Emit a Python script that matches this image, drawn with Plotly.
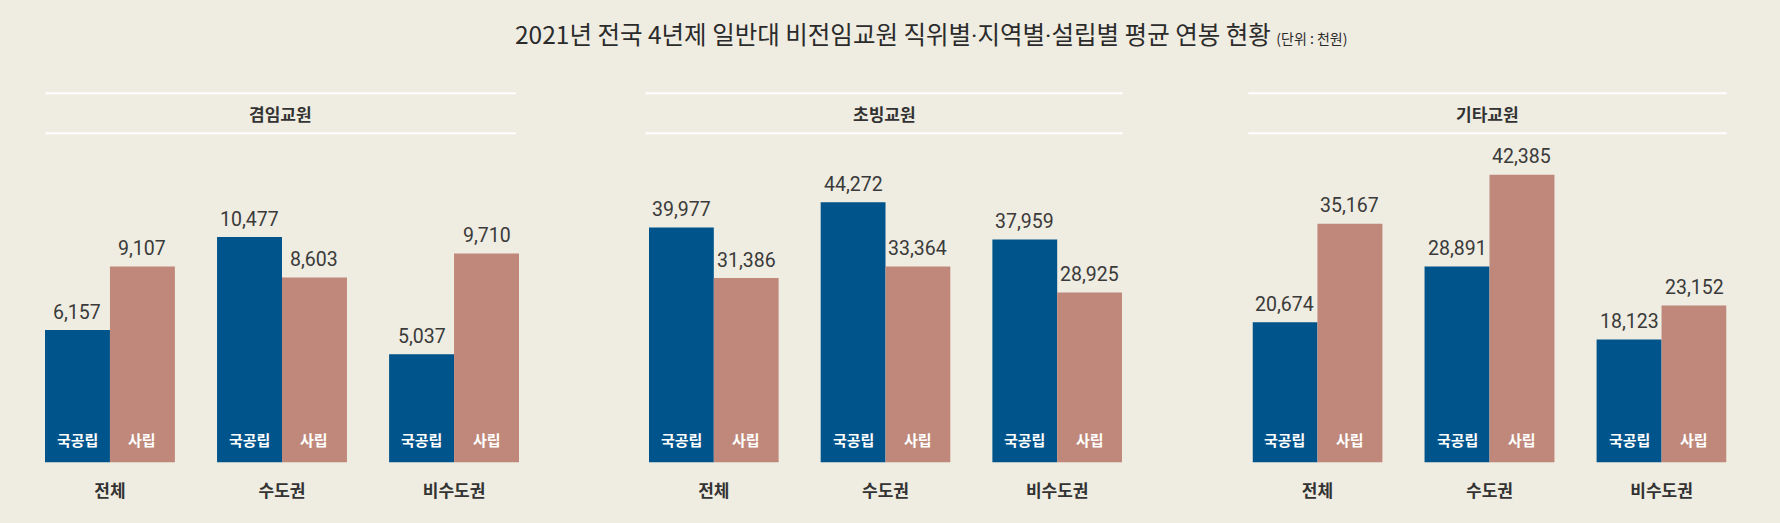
import plotly.graph_objects as go

# ---------------- data ----------------
title_parts = ["2021년 전국 4년제 일반대 비전임교원 직위별", "지역별", "설립별 평균 연봉 현황"]
title_unit = "(단위 : 천원)"
panels = ["겸임교원", "초빙교원", "기타교원"]
categories = ["전체", "수도권", "비수도권"]
sectors = ["국공립", "사립"]

public_adjunct = [6157, 10477, 5037]
private_adjunct = [9107, 8603, 9710]
public_invited = [39977, 44272, 37959]
private_invited = [31386, 33364, 28925]
public_other = [20674, 28891, 18123]
private_other = [35167, 42385, 23152]

panel_public = [public_adjunct, public_invited, public_other]
panel_private = [private_adjunct, private_invited, private_other]

# ---------------- style ----------------
W, H = 1780, 523
BG = "#efece1"
BLUE = "#00548c"
PINK = "#c0887a"
DARK = "#333333"
KR = "Noto Sans CJK KR"
NUM = "Roboto"

BARGAP = 0.245
GW = 1 - BARGAP

# pixel geometry of panels
x_px = [(45, 519), (649, 1122), (1252.5, 1726.5)]
line_px = [(45.5, 516), (645.5, 1123), (1248.5, 1726.5)]
y_bottom_px, y_top_px = 462.6, 150
y_scale = [0.02153, 0.00588, 0.00679]  # px per unit


def px2x(p):
    return p / W


def px2y(p):
    return 1 - p / H


fig = go.Figure()
layout = dict(
    width=W, height=H,
    margin=dict(l=0, r=0, t=0, b=0),
    paper_bgcolor=BG, plot_bgcolor=BG,
    barmode="group", bargap=BARGAP, bargroupgap=0,
    showlegend=False,
    font=dict(family=KR, color=DARK),
)

annotations = []
shapes = []

for k in range(3):
    sfx = "" if k == 0 else str(k + 1)
    xa, ya = "x" + sfx, "y" + sfx
    for j, (vals, color) in enumerate(((panel_public[k], BLUE), (panel_private[k], PINK))):
        fig.add_trace(go.Bar(
            x=categories, y=vals, xaxis=xa, yaxis=ya,
            marker=dict(color=color, line=dict(width=0)),
            hoverinfo="skip",
        ))
        for i, v in enumerate(vals):
            # value label above bar
            annotations.append(dict(
                xref=xa, yref=ya, x=i + (j - 0.5) * GW / 2, y=v,
                yshift=18, yanchor="middle", xanchor="center",
                text=f"{v:,}", showarrow=False,
                font=dict(family=NUM, size=19.5, color="#3a3a3a"),
            ))
            # sector label inside bar
            annotations.append(dict(
                xref=xa, yref=ya, x=i + (j - 0.5) * GW / 2, y=0,
                yshift=23, yanchor="middle", xanchor="center",
                text=sectors[j], showarrow=False,
                font=dict(family=KR, size=15, color="white", weight="bold"),
            ))
    rng_top = (y_bottom_px - y_top_px) / y_scale[k]
    layout["xaxis" + sfx] = dict(
        domain=[px2x(x_px[k][0]), px2x(x_px[k][1])],
        anchor=ya, type="category",
        range=[-GW / 2, len(categories) - 1 + GW / 2],
        showgrid=False, zeroline=False, showline=False,
        ticks="outside", ticklen=13, tickcolor="rgba(0,0,0,0)",
        tickfont=dict(family=KR, size=17, color=DARK, weight="bold"),
        fixedrange=True,
    )
    layout["yaxis" + sfx] = dict(
        domain=[px2y(y_bottom_px), px2y(y_top_px)],
        anchor=xa, range=[0, rng_top],
        showgrid=False, zeroline=False, showline=False,
        showticklabels=False, fixedrange=True,
    )
    # header
    cx = (line_px[k][0] + line_px[k][1]) / 2
    annotations.append(dict(
        xref="paper", yref="paper", x=px2x(cx), y=px2y(113.5),
        xanchor="center", yanchor="middle", text=panels[k], showarrow=False,
        font=dict(family=KR, size=17, color=DARK, weight="bold"),
    ))
    for yl in (93.3, 133.3):
        shapes.append(dict(
            type="line", xref="paper", yref="paper",
            x0=px2x(line_px[k][0]), x1=px2x(line_px[k][1]),
            y0=px2y(yl), y1=px2y(yl),
            line=dict(color="white", width=2),
        ))

dot = "<span style='font-family:Roboto'>·</span>"
annotations.append(dict(
    xref="paper", yref="paper", x=px2x(931), y=px2y(34),
    xanchor="center", yanchor="middle", showarrow=False,
    text=dot.join(title_parts) + " <span style='font-size:14px'>" + title_unit + "</span>",
    font=dict(family=KR, size=24.5, color="#2b2b2b"),
))

layout["annotations"] = annotations
layout["shapes"] = shapes
fig.update_layout(**layout)
fig.write_html(
    "out.html",
    config={"displayModeBar": False},
    post_script="document.body.style.margin='0';document.body.style.overflow='hidden';",
)
